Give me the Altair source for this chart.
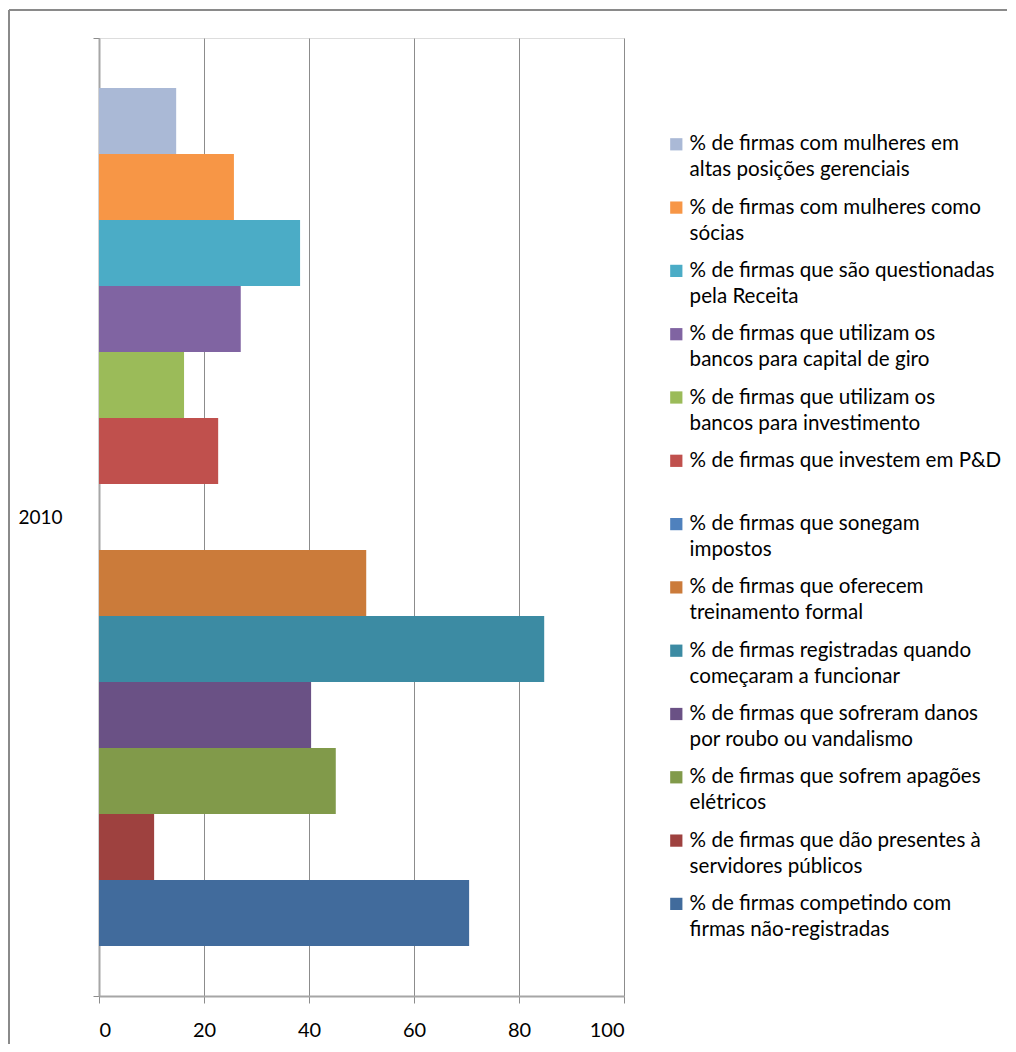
import altair as alt
import pandas as pd

# ---- data ----
years = ["2010"]
series = [
    "% de firmas com mulheres em|altas posições gerenciais",
    "% de firmas com mulheres como|sócias",
    "% de firmas que são questionadas|pela Receita",
    "% de firmas que utilizam os|bancos para capital de giro",
    "% de firmas que utilizam os|bancos para investimento",
    "% de firmas que investem em P&D",
    "% de firmas que sonegam|impostos",
    "% de firmas que oferecem|treinamento formal",
    "% de firmas registradas quando|começaram a funcionar",
    "% de firmas que sofreram danos|por roubo ou vandalismo",
    "% de firmas que sofrem apagões|elétricos",
    "% de firmas que dão presentes à|servidores públicos",
    "% de firmas competindo com|firmas não-registradas",
]
values = [14.7, 25.7, 38.3, 27.0, 16.2, 22.7, None, 50.9, 84.8, 40.4, 45.1, 10.5, 70.5]
colors = [
    "#AAB9D6", "#F79646", "#4BACC6", "#8064A2", "#9BBB59", "#C0504D", "#4F81BD",
    "#CB7B3A", "#3C8BA3", "#6A5185", "#819A4A", "#9E413F", "#416B9C",
]
x_ticks = [0, 20, 40, 60, 80, 100]

df = pd.DataFrame({"year": years * len(series), "series": series, "value": values})

FONT = "Lato"
GRID = "#8c8c8c"
FRAME = "#8a8a8a"

bars = alt.Chart(df).mark_bar().encode(
    x=alt.X(
        "value:Q",
        scale=alt.Scale(domain=[0, 100], nice=False),
        axis=alt.Axis(
            values=x_ticks, title=None, grid=True, gridColor=GRID, gridWidth=1,
            tickSize=7, tickColor=GRID, labelPadding=17, labelFontSize=20,
            labelFont=FONT, labelColor="black", domainColor="#a6a6a6", domainWidth=2,
        ),
    ),
    y=alt.Y(
        "year:N",
        scale=alt.Scale(paddingInner=0, paddingOuter=0),
        axis=alt.Axis(
            title=None, tickBand="extent", tickSize=6, tickColor=GRID,
            labelPadding=31, labelFontSize=19, labelFont=FONT, labelColor="black",
            domainColor="#a6a6a6", domainWidth=2, grid=False,
        ),
    ),
    yOffset=alt.YOffset(
        "series:N", sort=series,
        scale=alt.Scale(domain=series, paddingOuter=0.758, paddingInner=0),
    ),
    color=alt.Color(
        "series:N",
        scale=alt.Scale(domain=series, range=colors),
        legend=alt.Legend(
            title=None, orient="none", legendX=567, legendY=96, direction="vertical",
            columns=1, labelExpr="split(datum.label, '|')", symbolType="square",
            symbolSize=150, symbolStrokeWidth=0, symbolOpacity=1, labelFont=FONT,
            labelFontSize=20.6, labelColor="black", labelLimit=500, rowPadding=16.3,
            gridAlign="all", labelBaseline="middle", padding=0, labelOffset=3,
        ),
    ),
)

frame_top = alt.Chart(pd.DataFrame({"a": [0]})).mark_rule(
    stroke=FRAME, strokeWidth=2
).encode(x=alt.value(-90), x2=alt.value(1000), y=alt.value(-28))

frame_left = alt.Chart(pd.DataFrame({"a": [0]})).mark_rule(
    stroke=FRAME, strokeWidth=2
).encode(x=alt.value(-90), y=alt.value(-28), y2=alt.value(1100))

chart = (
    alt.layer(frame_top, frame_left, bars)
    .properties(
        width=525, height=958,
        autosize=alt.AutoSizeParams(type="none"),
        padding={"left": 91, "top": 30, "right": 383, "bottom": 48},
    )
    .configure_view(strokeWidth=0)
    .configure(style={"guide-label": {"lineHeight": 26}})
)

chart.save("out.html", embed_options={"renderer": "svg", "actions": False})
